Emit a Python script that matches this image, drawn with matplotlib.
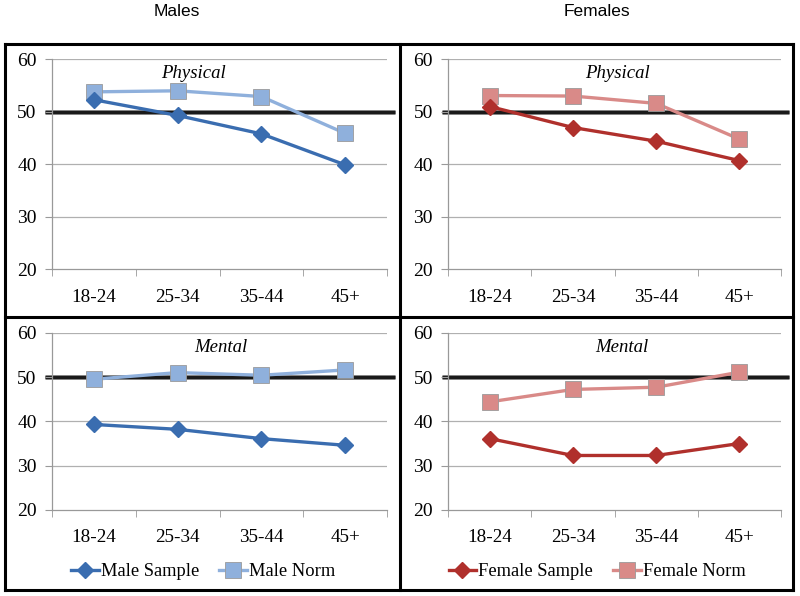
import matplotlib
matplotlib.use("Agg")
import matplotlib.pyplot as plt
from matplotlib.lines import Line2D

ages = ["18-24", "25-34", "35-44", "45+"]
yticks = [20, 30, 40, 50, 60]

male_sample_physical = [52.3, 49.3, 45.8, 39.9]
male_norm_physical = [53.8, 54.0, 52.9, 45.9]
female_sample_physical = [51.0, 47.0, 44.4, 40.7]
female_norm_physical = [53.1, 53.0, 51.6, 44.8]

male_sample_mental = [39.3, 38.2, 36.1, 34.6]
male_norm_mental = [49.5, 51.0, 50.4, 51.6]
female_sample_mental = [36.1, 32.3, 32.3, 35.0]
female_norm_mental = [44.4, 47.2, 47.7, 51.1]

reference_value = 50

col_ms = "#3a6db0"
col_mn = "#8fb0dc"
col_fs = "#b0302c"
col_fn = "#d98a88"

W, H = 800, 596
fig = plt.figure(figsize=(W / 100, H / 100), dpi=100)

def fx(px):
    return px / W

def fy(py):
    return 1 - py / H

serif = "Liberation Serif"
sans = "Liberation Sans"

def make_ax(left, right, top, bottom, sample, norm, cs, cn, title, title_x, title_y):
    ax = fig.add_axes([fx(left), fy(bottom), fx(right - left), fy(top) - fy(bottom)])
    x = list(range(len(ages)))
    ax.set_xlim(-0.5, len(ages) - 0.5)
    ax.set_ylim(20, 60)
    # reference line at 50
    ax.plot([-0.02, 1.025], [reference_value, reference_value], transform=ax.get_yaxis_transform(),
            color="#808080", lw=3.4, zorder=1, clip_on=False, solid_capstyle="butt")
    ax.plot([-0.02, 1.025], [reference_value, reference_value], transform=ax.get_yaxis_transform(),
            color="#1a1a1a", lw=2.3, zorder=1.1, clip_on=False, solid_capstyle="butt")
    ax.plot(x, norm, color=cn, lw=2.4, marker="s", ms=11, mfc=cn, mec="#9a9a9a", mew=0.6, zorder=3)
    ax.plot(x, sample, color=cs, lw=2.4, marker="D", ms=8.5, mfc=cs, mec=cs, zorder=4)
    ax.set_yticks(yticks)
    ax.set_yticklabels([str(v) for v in yticks], fontfamily=serif, fontsize=14)
    ax.set_xticks(x)
    ax.set_xticklabels(ages, fontfamily=serif, fontsize=13.8)
    ax.set_xticks([i - 0.5 for i in range(len(ages) + 1)], minor=True)
    ax.tick_params(axis="x", which="major", length=0, pad=14)
    ax.tick_params(axis="x", which="minor", length=5, color="#999999", direction="out")
    ax.tick_params(axis="y", length=5, color="#999999", direction="out", pad=6)
    for v in yticks[1:]:
        ax.axhline(v, color="#b0b0b0", lw=0.9, zorder=0)
    for s in ["top", "right"]:
        ax.spines[s].set_visible(False)
    for s in ["left", "bottom"]:
        ax.spines[s].set_color("#999999")
        ax.spines[s].set_linewidth(0.9)
    ax.text(title_x, title_y, title, transform=ax.transAxes, ha="center", va="center",
            fontfamily=serif, fontstyle="italic", fontsize=13.5)
    return ax

make_ax(52, 387, 59.3, 269.3, male_sample_physical, male_norm_physical, col_ms, col_mn,
        "Physical", (193 - 52) / 335, (269.3 - 73) / 210)
make_ax(448.3, 781, 59.3, 269.3, female_sample_physical, female_norm_physical, col_fs, col_fn,
        "Physical", (617 - 448.3) / 332.7, (269.3 - 73) / 210)
make_ax(52, 387, 332.7, 510, male_sample_mental, male_norm_mental, col_ms, col_mn,
        "Mental", (221 - 52) / 335, (510 - 347.3) / 177.3)
make_ax(448.3, 781, 332.7, 510, female_sample_mental, female_norm_mental, col_fs, col_fn,
        "Mental", (622 - 448.3) / 332.7, (510 - 347.3) / 177.3)

# Column titles
fig.text(fx(177), fy(12), "Males", ha="center", va="center", fontfamily=sans, fontsize=12.5)
fig.text(fx(597), fy(12), "Females", ha="center", va="center", fontfamily=sans, fontsize=12.5)

# Panel borders
lw_b = 2.2
def fline(x0, y0, x1, y1):
    fig.add_artist(Line2D([fx(x0), fx(x1)], [fy(y0), fy(y1)], color="black", lw=lw_b,
                          transform=fig.transFigure, solid_capstyle="projecting"))

fline(5, 44, 793, 44)
fline(5, 590, 793, 590)
fline(5, 44, 5, 590)
fline(793, 44, 793, 590)
fline(400, 44, 400, 590)
fline(5, 317, 793, 317)

# Legends
def legend_handles(cs, cn, ls, ln):
    h1 = Line2D([], [], color=cs, lw=2.4, marker="D", ms=8.5, mfc=cs, mec=cs, label=ls)
    h2 = Line2D([], [], color=cn, lw=2.4, marker="s", ms=11, mfc=cn, mec="#9a9a9a", mew=0.6, label=ln)
    return [h1, h2]

for hs, cx in [(legend_handles(col_ms, col_mn, "Male Sample", "Male Norm"), 203),
               (legend_handles(col_fs, col_fn, "Female Sample", "Female Norm"), 597)]:
    fig.legend(handles=hs, loc="center", bbox_to_anchor=(fx(cx), fy(572)), ncol=2, frameon=False,
               prop={"family": serif, "size": 13.3}, handlelength=1.5, handletextpad=0.1,
               columnspacing=1.1, borderaxespad=0)

fig.savefig("out.png", dpi=100)
